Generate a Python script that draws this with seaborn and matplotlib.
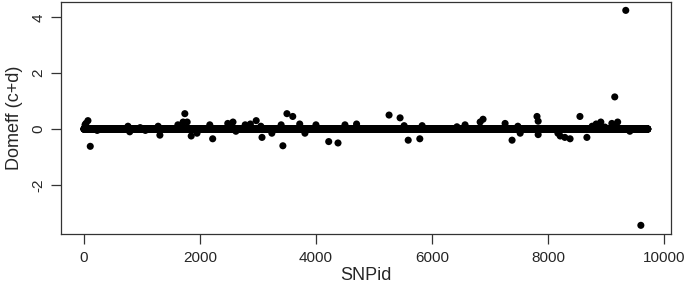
import numpy as np
import pandas as pd
import matplotlib
matplotlib.use("Agg")
import matplotlib.pyplot as plt
import seaborn as sns

# SNP range (bulk of effects sit right on zero)
snp_first = 1
snp_last = 9720

# SNPs whose dominance effect is visibly away from zero
out_snp = [35, 70, 110, 20, 230, 760, 790, 970, 1060, 1280, 1310, 1620, 1710, 1740,
           1780, 1850, 1950, 2120, 2170, 2220, 2480, 2570, 2620, 2780, 2870, 2970,
           3050, 3070, 3240, 3400, 3430, 3500, 3600, 3720, 3810, 4000, 4070, 4220,
           4380, 4500, 4700, 5260, 5450, 5520, 5590, 5790, 5830, 6430, 6570, 6830,
           6880, 7260, 7380, 7480, 7520, 7810, 7830, 7830, 8170, 8210, 8290, 8380,
           8550, 8670, 8760, 8830, 8910, 8980, 9100, 9150, 9120, 9200, 9340, 9410,
           9600, 9700]
out_eff = [0.2, 0.3, -0.62, 0.15, -0.05, 0.1, -0.1, 0.05, -0.05, 0.1, -0.22, 0.15,
           0.25, 0.55, 0.25, -0.25, -0.15, 0.0, 0.15, -0.35, 0.2, 0.25, -0.08, 0.15,
           0.18, 0.3, 0.1, -0.3, -0.15, 0.15, -0.6, 0.55, 0.45, 0.18, -0.15, 0.15,
           0.0, -0.45, -0.5, 0.15, 0.18, 0.5, 0.4, 0.12, -0.4, -0.35, 0.12, 0.08,
           0.15, 0.25, 0.35, 0.2, -0.4, 0.1, -0.15, 0.45, 0.28, -0.2, -0.15, -0.25,
           -0.3, -0.35, 0.45, -0.3, 0.1, 0.18, 0.25, 0.07, 0.2, 1.15, 0.15, 0.25,
           4.25, -0.08, -3.45, 0.0]

bulk = pd.DataFrame({"SNPid": np.arange(snp_first, snp_last + 1)})
bulk["Domeff"] = 0.0
df = pd.concat([bulk, pd.DataFrame({"SNPid": out_snp, "Domeff": out_eff})],
               ignore_index=True)

sns.set_style("ticks")
plt.rcParams["font.family"] = ["Liberation Sans", "DejaVu Sans"]

fig = plt.figure(figsize=(6.85, 2.85), dpi=100)
ax = fig.add_axes([0.089, 0.179, 0.8906, 0.814])

sns.scatterplot(data=df, x="SNPid", y="Domeff", ax=ax, color="black",
                s=26, edgecolor="none", linewidth=0)

ax.set_xlim(-395, 10120)
ax.set_ylim(-3.76, 4.55)
ax.set_xticks([0, 2000, 4000, 6000, 8000, 10000])
ax.set_yticks([-2, 0, 2, 4])
ax.set_yticklabels(["-2", "0", "2", "4"], rotation=90, va="center")
ax.tick_params(axis="both", labelsize=11, length=7, width=0.9, color="#333333",
               direction="out", pad=5)
ax.tick_params(axis="y", pad=4)
for sp in ax.spines.values():
    sp.set_color("#333333")
    sp.set_linewidth(0.9)

ax.set_xlabel("SNPid", fontsize=13, labelpad=2)
ax.set_ylabel("Domeff (c+d)", fontsize=13, labelpad=6)

fig.savefig("out.png", dpi=100)
